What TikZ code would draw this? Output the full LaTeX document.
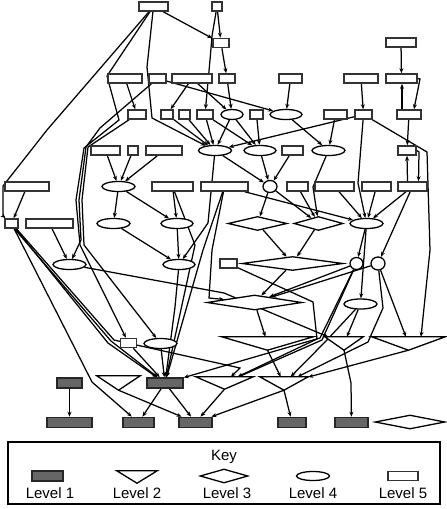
\documentclass[tikz,border=0pt]{standalone}
\usepackage{fontspec}
\setmainfont{Liberation Sans}
\usetikzlibrary{shapes.geometric,arrows.meta}
\pgfdeclarelayer{bg}
\pgfsetlayers{bg,main}
\begin{document}
\begin{tikzpicture}[x=1pt,y=-1pt,
  lv5/.style={draw=black!80,line width=1.6pt,fill=white,rectangle,minimum height=9pt,inner sep=0pt,minimum width=#1},
  lv1/.style={draw=black!85,line width=1.6pt,fill=black!60,rectangle,minimum height=10pt,inner sep=0pt,minimum width=#1},
  lv4/.style={draw=black,line width=1.3pt,fill=white,ellipse,minimum height=10pt,inner sep=0pt,minimum width=#1},
  lv3/.style={draw=black,line width=1.3pt,fill=white,diamond,inner sep=0pt,minimum width=#1,minimum height=14pt},
  lv2/.style={inner sep=0pt,minimum width=#1,minimum height=13pt},
  tri/.style={draw=black,line width=1.3pt,fill=white,line join=miter},
  edg/.style={draw=black,line width=1.25pt,-{Stealth[length=5pt,width=4pt]}},
  lbl/.style={font=\fontsize{15}{18}\selectfont,inner sep=0pt},
  ]
\useasboundingbox (0,0) rectangle (447,509);
% nodes
\node[lv5=29] (a1) at (153.5,6.5) {};
\node[lv5=10] (a2) at (217,6.5) {};
\node[lv5=16] (b1) at (221,43) {};
\node[lv5=30] (b2) at (401,42.5) {};
\node[lv5=34] (c1) at (125,78.5) {};
\node[lv5=17] (c2) at (157.5,78.5) {};
\node[lv5=40] (c3) at (192,78.5) {};
\node[lv5=16] (c4) at (227,78.5) {};
\node[lv5=23] (c5) at (290.5,78.5) {};
\node[lv5=34] (c6) at (361,78.5) {};
\node[lv5=31] (c7) at (401.5,78.5) {};
\node[lv5=18] (d1) at (137,114.5) {};
\node[lv5=12] (d2) at (167,114.5) {};
\node[lv5=11] (d3) at (184.5,114.5) {};
\node[lv5=16] (d4) at (205,114.5) {};
\node[lv4=22] (d5) at (232,114.5) {};
\node[lv5=13] (d6) at (256.5,114.5) {};
\node[lv4=32] (d7) at (286,114.5) {};
\node[lv5=23] (d8) at (335.5,114.5) {};
\node[lv5=17] (d9) at (363.5,114.5) {};
\node[lv5=24] (d10) at (409,114.5) {};
\node[lv5=29] (e1) at (105.5,150.5) {};
\node[lv5=10] (e2) at (133,150.5) {};
\node[lv5=36] (e3) at (164,150.5) {};
\node[lv4=33] (e4) at (215,150.5) {};
\node[lv4=32] (e5) at (260,150.5) {};
\node[lv5=21] (e6) at (292.5,150.5) {};
\node[lv4=33] (e7) at (328.5,150.5) {};
\node[lv5=18] (e8) at (407,150.5) {};
\node[lv5=44] (f1) at (27,186.5) {};
\node[lv4=33] (f2) at (118.5,186.5) {};
\node[lv5=41] (f3) at (172.5,186.5) {};
\node[lv5=47] (f4) at (224.5,186.5) {};
\node[lv4=14,minimum height=12pt] (f5) at (270,186.5) {};
\node[lv5=21] (f6) at (297.5,186.5) {};
\node[lv5=39] (f7) at (334.5,186.5) {};
\node[lv5=29] (f8) at (376.5,186.5) {};
\node[lv5=29] (f9) at (412.5,186.5) {};
\node[lv5=13] (g1) at (11.5,223.5) {};
\node[lv5=47] (g2) at (49.5,223.5) {};
\node[lv4=33] (g3) at (113.5,223.5) {};
\node[lv4=32] (g4) at (177,223.5) {};
\node[lv3=59] (g5) at (257.5,223.5) {};
\node[lv3=49] (g6) at (318.5,223.5) {};
\node[lv4=33] (g7) at (366.5,223.5) {};
\node[lv4=33] (h1) at (69.5,264.5) {};
\node[lv4=32] (h2) at (179,264.5) {};
\node[lv5=17] (h3) at (228.5,263.5) {};
\node[lv3=101] (h4) at (292.5,263.5) {};
\node[lv4=13,minimum height=12pt] (h5) at (356.5,263.5) {};
\node[lv4=14,minimum height=13pt] (h6) at (378,263.5) {};
\node[lv3=95,minimum height=15pt] (i1) at (254.5,302.5) {};
\node[lv4=33] (i2) at (360.5,304) {};
\node[lv5=16] (j1) at (128.5,343) {};
\node[lv4=33] (j2) at (160.5,343.5) {};
\node[lv2=91] (j3) at (267.5,343.5) {};
\node[lv2=38] (j4) at (344,343.5) {};
\node[lv2=73] (j5) at (408.5,343.5) {};
\node[lv1=25] (k1) at (69.5,383) {};
\node[lv2=43,minimum height=14pt] (k2) at (118.5,383) {};
\node[lv1=36] (k3) at (165,383) {};
\node[lv2=57,minimum height=12pt] (k4) at (224.5,383) {};
\node[lv2=48] (k5) at (284,383.5) {};
\node[lv1=45] (l1) at (69.5,422.5) {};
\node[lv1=31] (l2) at (138.5,422.5) {};
\node[lv1=33] (l3) at (195.5,422.5) {};
\node[lv1=28] (l4) at (292,422.5) {};
\node[lv1=33] (l5) at (351.5,422.5) {};
\node[lv3=70] (l6) at (410,422) {};
\foreach \n in {j3,j4,j5,k2,k4,k5}
  \draw[tri] (\n.north west) -- (\n.north east) -- (\n.south) -- cycle;
% edges
\begin{pgfonlayer}{bg}
\draw[edg] (a1) -- (b1);
\draw[edg] (a2) -- (b1);
\draw[edg] (a2) -- (212,36) -- (210,60) -- (d4);
\draw[edg] (b1) -- (c4);
\draw[edg] (a1) -- (47,130) -- (3,186) -- (3,216) -- (g1);
\draw[edg] (f1) -- (g1);
\draw[edg] (g1) -- (92,382) -- (l2);
\draw[edg] (a1) -- (107,76) -- (119,120) -- (84,148) -- (76,200) -- (80,245) -- (j1);
\draw[edg] (c2) -- (100,128) -- (86,147) -- (79,200) -- (81,240) -- (h1);
\draw[edg] (d1) -- (88,147) -- (82,200) -- (84,245) -- (j2);
\draw[edg] (c1) -- (d1);
\draw[edg] (a1) -- (147,67) -- (152,118) -- (e4);
\draw[edg] (c2) -- (d7);
\draw[edg] (c3) -- (d2);
\draw[edg] (c3) -- (d5);
\draw[edg] (c4) -- (d5);
\draw[edg] (c5) -- (d7);
\draw[edg] (c6) -- (d9);
\draw[edg] (b2) -- (c7);
\draw[edg] ([xshift=-7pt]d10.north) -- ([xshift=0.5pt]c7.south);
\draw[edg] (c7.east) -- (420,79) -- ([xshift=5pt]d10.north);
\draw[edg] (d2) -- (e4);
\draw[edg] (d3) -- (e4);
\draw[edg] (d4) -- (e4);
\draw[edg] (d5) -- (e4);
\draw[edg] (d9) -- (e4);
\draw[edg] (d4) -- (e5);
\draw[edg] (d5) -- (e5);
\draw[edg] (d6) -- (e5);
\draw[edg] (d7) -- (e7);
\draw[edg] (d8) -- (e7);
\draw[edg] (d10) -- (e8);
\draw[edg] (e8.east) -- (419,152) -- ([xshift=6pt]f9.north);
\draw[edg] ([xshift=-5pt]f9.north) -- (e8.south);
\draw[edg] (d9) -- (427,152) -- (430,250) -- ([xshift=12.5pt]j5.north);
\draw[edg] (d9) -- (358,183) -- (g7);
\draw[edg] (e1) -- (f2);
\draw[edg] (e2) -- (f2);
\draw[edg] (e3) -- (f2);
\draw[edg] (e4) -- (208,223) -- (h2);
\draw[edg] (f2) -- (g3);
\draw[edg] (f2) -- (g4);
\draw[edg] (f3) -- (g4);
\draw[edg] (e4) -- (f5);
\draw[edg] (e5) -- (f5);
\draw[edg] (e6) -- (f5);
\draw[edg] (e7) -- (313,187) -- (g6);
\draw[edg] (f6) -- (g6);
\draw[edg] (f7) -- (g7);
\draw[edg] (f8) -- (g7);
\draw[edg] (f9) -- (g7);
\draw[edg] (f4) -- (g7);
\draw[edg] (f9) -- (h6);
\draw[edg] (f5) -- (g5);
\draw[edg] (f5) -- (g6);
\draw[edg] (g5) -- (h4);
\draw[edg] (g6) -- (h4);
\draw[edg] (g7) -- (h5);
\draw[edg] (g7) -- (i2);
\draw[edg] (g2) -- (h1);
\draw[edg] (g3) -- (h2);
\draw[edg] (g4) -- (h2);
\draw[edg] (h4) -- (i1);
\draw[edg] (h5) -- (i1);
\draw[edg] (h6) -- (i1);
\draw[edg] (f4) -- (212,250) -- (209,298) -- (i1);
\draw[edg] (f4) -- (203,250) -- (k3);
\draw[edg] (f3) -- (195,245) -- (k3);
\draw[edg] (h1) -- (224,293) -- (j4);
\draw[edg] (h2) -- (175,307) -- (k3);
\draw[edg] (g1) -- (108,343) -- (k3);
\draw[edg] ([xshift=3pt]g1.south) -- (111,341) -- (k3);
\draw[edg] ([xshift=5pt]g1.south) -- (114,340) -- (240,368) -- (k4);
\draw[edg] (j1) -- (k3);
\draw[edg] (j2) -- (k3);
\draw[edg] (h5) -- (320,338) -- (k3);
\draw[edg] (h3) -- (313,302) -- (317,339) -- (k4);
\draw[edg] (h5) -- (322,340) -- (k4);
\draw[edg] (i2) -- (j4);
\draw[edg] (i2) -- (326,341) -- (k5);
\draw[edg] (h6) -- (j5);
\draw[edg] (h6) -- (383,308) -- (368,342) -- (k5);
\draw[edg] (i1) -- (j3);
\draw[edg] (j3.south) -- (k5);
\draw[edg] (j4.south) -- (351,383) -- (l5);
\draw[edg] (j5.south) -- (k5);
\draw[edg] (k5.south) -- (l4);
\draw[edg] (k5.south) -- (l3);
\draw[edg] (k4.south) -- (l3);
\draw[edg] (k3) -- (l3);
\draw[edg] (k3) -- (l2);
\draw[edg] (k2.south) -- (l3);
\draw[edg] (k1) -- (l1);
\end{pgfonlayer}
% key
\draw[line width=1.6pt] (8,442) rectangle (440,504);
\node[lbl] (keyt) at (224,457) {Key};
\node[lv1=31] (kl1) at (47.5,476) {};
\node[lv2=40,minimum height=12pt] (kl2) at (137,477) {};
\draw[tri] (kl2.north west) -- (kl2.north east) -- (kl2.south) -- cycle;
\node[lv3=48] (kl3) at (224,476) {};
\node[lv4=33,minimum height=9pt] (kl4) at (313,476) {};
\node[lv5=30] (kl5) at (403,476) {};
\node[lbl] (t1) at (50,493) {Level 1};
\node[lbl] (t2) at (137,493) {Level 2};
\node[lbl] (t3) at (227,493) {Level 3};
\node[lbl] (t4) at (313,493) {Level 4};
\node[lbl] (t5) at (403,493) {Level 5};
\end{tikzpicture}
\end{document}
